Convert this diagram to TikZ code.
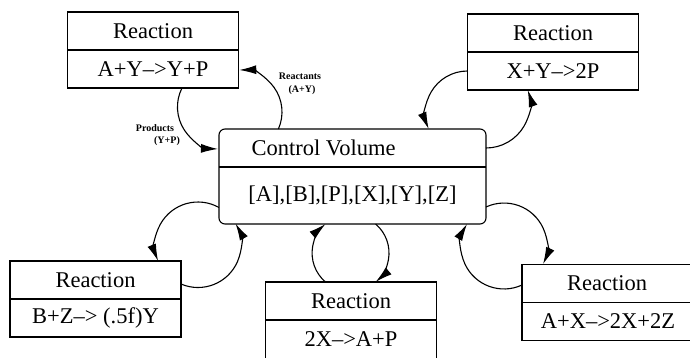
\documentclass[tikz,border=0pt]{standalone}
\usepackage{fontspec}
\setmainfont{Liberation Serif}
\usetikzlibrary{arrows.meta}
\begin{document}
\begin{tikzpicture}[x=1pt,y=1pt,
  big/.style={font=\fontsize{22.5}{27}\selectfont},
  rowbox/.style={draw, line width=1.1pt, minimum width=171pt, minimum height=38pt, inner sep=0pt, outer sep=0pt, big},
  cvbox/.style={draw, line width=1.1pt, rounded corners=6pt, minimum width=267pt, minimum height=95pt, inner sep=0pt, outer sep=0pt},
  arr/.style={line width=1.1pt, -{Latex[length=17pt,width=9pt]}},
  lbl/.style={font=\fontsize{10}{12}\selectfont\bfseries, inner sep=0pt}]
\useasboundingbox (0,0) rectangle (690,357);
% reaction boxes
\node[rowbox] (tlH) at (153,326) {Reaction};
\node[rowbox,anchor=north] (tlB) at (tlH.south) {A+Y–>Y+P};
\node[rowbox] (trH) at (553,324) {Reaction};
\node[rowbox,anchor=north] (trB) at (trH.south) {X+Y–>2P};
\node[rowbox] (blH) at (95.5,77) {Reaction};
\node[rowbox,anchor=north] (blB) at (blH.south) {B+Z–> (.5f)Y};
\node[rowbox] (bmH) at (351,56) {Reaction};
\node[rowbox,anchor=north,minimum height=44pt,text height=0pt] (bmB) at (bmH.south) {};
\node[big] (bmT) at ([yshift=-19pt]bmH.south) {2X–>A+P};
\node[rowbox,minimum width=180pt] (brH) at (612,73.5) {};
\node[big] (brHT) at (607,73.5) {Reaction};
\node[rowbox,anchor=north,minimum width=180pt] (brB) at (brH.south) {};
\node[big] (brBT) at ([yshift=-19pt,xshift=-4pt]brH.south) {A+X–>2X+2Z};
% control volume
\node[cvbox] (cv) at (352.5,180.5) {};
\draw[line width=1.1pt] ([yshift=-38pt]cv.north west) -- ([yshift=-38pt]cv.north east);
\node[big, anchor=west] (cvt) at ([xshift=29pt,yshift=-19pt]cv.north west) {Control Volume};
\node[big] (cvb) at ([yshift=28.5pt]cv.south) {[A],[B],[P],[X],[Y],[Z]};
% top-left loop
\draw[arr] ([xshift=59.4pt]cv.north west) arc[start angle=-23.9, end angle=91, radius=42pt];
\draw[arr] ([xshift=114.5pt]tlB.south west) arc[start angle=153.1, end angle=268, radius=42pt];
\node[lbl] (lreact) at (300,281) {Reactants};
\node[lbl] (lay) at (302,267) {(A+Y)};
\node[lbl] (lprod) at (155,229) {Products};
\node[lbl] (lyp) at (167,216) {(Y+P)};
% top-right loop
\draw[arr] (trB.west) arc[start angle=90, end angle=202.4, radius=42pt];
\draw[arr] ([yshift=-19pt]cv.north east) arc[start angle=270, end angle=378.6, radius=44pt];
% bottom-left loop
\draw[arr] ([yshift=16.5pt]cv.south west) arc[start angle=60.75, end angle=201.85, radius=43pt];
\draw[arr] ([yshift=-4pt]blH.east) arc[start angle=-113.3, end angle=29.25, radius=43pt];
% bottom-middle loop
\draw[arr] ([xshift=60pt]bmH.north west) arc[start angle=229.7, end angle=130.3, radius=38pt];
\draw[arr] ([xshift=156.6pt]cv.south west) arc[start angle=49.7, end angle=-49.7, radius=38pt];
% bottom-right loop
\draw[arr] ([yshift=-1.5pt]brH.west) arc[start angle=-65.2, end angle=-210.7, radius=43pt];
\draw[arr] ([yshift=17pt]cv.south east) arc[start angle=114.8, end angle=-24.8, radius=43pt];
\end{tikzpicture}
\end{document}
